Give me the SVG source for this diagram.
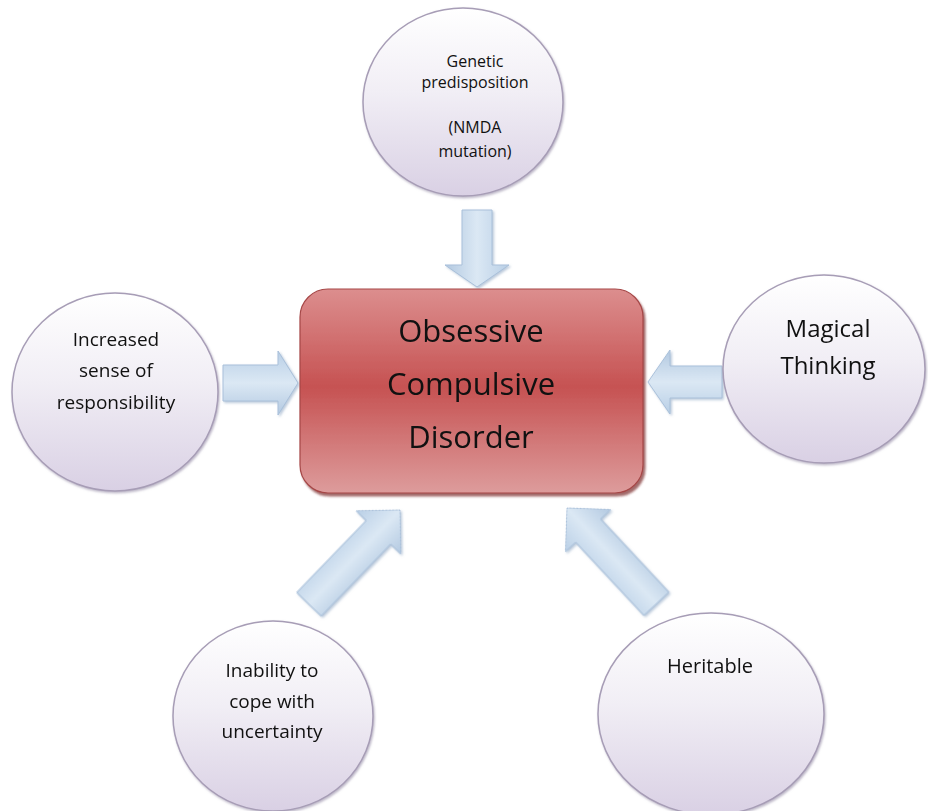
<svg xmlns="http://www.w3.org/2000/svg" width="928" height="811" viewBox="0 0 928 811">
  <defs>
    <linearGradient id="gCircle" x1="0" y1="0" x2="0" y2="1">
      <stop offset="0" stop-color="#ffffff"/>
      <stop offset="0.45" stop-color="#f1eef5"/>
      <stop offset="1" stop-color="#d9d0e4"/>
    </linearGradient>
    <linearGradient id="gRect" x1="0" y1="0" x2="0" y2="1">
      <stop offset="0" stop-color="#dc8e8e"/>
      <stop offset="0.48" stop-color="#c65252"/>
      <stop offset="1" stop-color="#dd9c9c"/>
    </linearGradient>
    <linearGradient id="gArrow" x1="0" y1="0" x2="0" y2="1">
      <stop offset="0" stop-color="#b9cfe6"/>
      <stop offset="0.5" stop-color="#dbe8f4"/>
      <stop offset="1" stop-color="#b3c9e1"/>
    </linearGradient>
    <filter id="shRect" x="-10%" y="-10%" width="120%" height="120%">
      <feDropShadow dx="2" dy="3" stdDeviation="1.2" flood-color="#7a2a2a" flood-opacity="0.7"/>
    </filter>
    <filter id="shArrow" x="-20%" y="-20%" width="140%" height="140%">
      <feDropShadow dx="1.5" dy="1.5" stdDeviation="1" flood-color="#8da6c2" flood-opacity="0.6"/>
    </filter>
    <filter id="shCircle" x="-10%" y="-10%" width="120%" height="120%">
      <feDropShadow dx="1" dy="1.5" stdDeviation="0.8" flood-color="#8e84a0" flood-opacity="0.6"/>
    </filter>
  </defs>
  <style>
    .circle { fill: url(#gCircle); stroke: #a79db6; stroke-width: 1.5; }
    .box { fill: url(#gRect); stroke: #a64747; stroke-width: 1.2; }
    .arrow { fill: url(#gArrow); stroke: #a9c0da; stroke-width: 1; }
    text { font-family: "Open Sans", "Noto Sans", "Liberation Sans", sans-serif; fill: #111111; text-anchor: middle; }
    .t16 { font-size: 16px; }
    .t19 { font-size: 19px; }
    .t20 { font-size: 20px; }
    .t24 { font-size: 24px; }
    .t31 { font-size: 31px; }
  </style>
  <rect width="928" height="811" fill="#ffffff"/>

  <g id="connectors" filter="url(#shArrow)">
    <path class="arrow" transform="translate(477,287) rotate(90)" d="M0,0 L-22,-32 L-22,-15 L-77,-15 L-77,15 L-22,15 L-22,32 Z"/>
    <path class="arrow" transform="translate(298,383)" d="M0,0 L-20,-32 L-20,-18 L-75,-18 L-75,18 L-20,18 L-20,32 Z"/>
    <path class="arrow" transform="translate(648,382) rotate(180)" d="M0,0 L-22,-32 L-22,-16 L-74,-16 L-74,16 L-22,16 L-22,32 Z"/>
    <path class="arrow" transform="translate(400,510) rotate(-46)" d="M0,0 L-31,-31 L-31,-17 L-131,-17 L-131,17 L-31,17 L-31,31 Z"/>
    <path class="arrow" transform="translate(567,508) rotate(-133)" d="M0,0 L-31,-31 L-31,-17 L-131,-17 L-131,17 L-31,17 L-31,31 Z"/>
  </g>

  <g id="node-ocd">
    <rect class="box" x="300" y="289" width="343" height="204" rx="28" ry="28" filter="url(#shRect)"/>
    <text class="t31" x="471" y="342">Obsessive</text>
    <text class="t31" x="471" y="395">Compulsive</text>
    <text class="t31" x="471" y="448">Disorder</text>
  </g>

  <g id="node-genetic">
    <ellipse class="circle" cx="463" cy="102" rx="100" ry="94" filter="url(#shCircle)"/>
    <text class="t16" x="475" y="67">Genetic</text>
    <text class="t16" x="475" y="88">predisposition</text>
    <text class="t16" x="475" y="133">(NMDA</text>
    <text class="t16" x="475" y="157">mutation)</text>
  </g>

  <g id="node-responsibility">
    <ellipse class="circle" cx="115" cy="392" rx="103" ry="99" filter="url(#shCircle)"/>
    <text class="t19" x="116" y="346">Increased</text>
    <text class="t19" x="116" y="377">sense of</text>
    <text class="t19" x="116" y="409">responsibility</text>
  </g>

  <g id="node-magical">
    <ellipse class="circle" cx="824" cy="369" rx="101" ry="94" filter="url(#shCircle)"/>
    <text class="t24" x="828" y="337">Magical</text>
    <text class="t24" x="828" y="374">Thinking</text>
  </g>

  <g id="node-uncertainty">
    <ellipse class="circle" cx="273" cy="716" rx="100" ry="95" filter="url(#shCircle)"/>
    <text class="t19" x="272" y="677">Inability to</text>
    <text class="t19" x="272" y="708">cope with</text>
    <text class="t19" x="272" y="738">uncertainty</text>
  </g>

  <g id="node-heritable">
    <ellipse class="circle" cx="711" cy="714" rx="113" ry="101" filter="url(#shCircle)"/>
    <text class="t20" x="710" y="673">Heritable</text>
  </g>
</svg>
